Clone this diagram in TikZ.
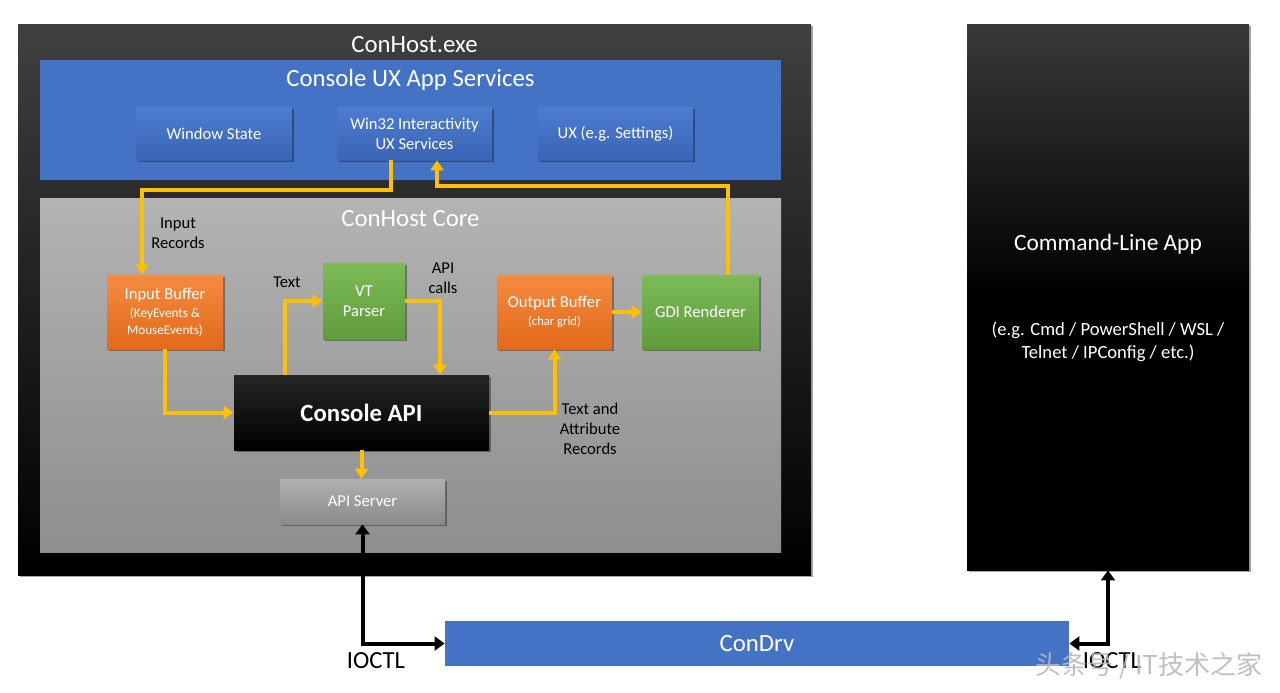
\documentclass[tikz,border=0pt]{standalone}
\usepackage{fontspec}
\setmainfont{Carlito}
\newfontfamily\cjkfont{Noto Sans CJK SC}
\usetikzlibrary{arrows.meta,shadows,calc}
\newcommand\fsz[2]{\fontsize{#1}{#2}\selectfont}
\definecolor{uxblue}{HTML}{4472C4}
\definecolor{bluetop}{HTML}{4D7DD0}
\definecolor{bluebot}{HTML}{3A64B4}
\definecolor{orgtop}{HTML}{F58B40}
\definecolor{orgbot}{HTML}{E2691A}
\definecolor{grntop}{HTML}{7CBB57}
\definecolor{grnbot}{HTML}{5F9B3B}
\definecolor{yel}{HTML}{FFC000}
\definecolor{coretop}{HTML}{B3B3B3}
\definecolor{corebot}{HTML}{8E8E8E}
\definecolor{srvtop}{HTML}{B0B0B0}
\definecolor{srvbot}{HTML}{8A8A8A}
\definecolor{hosttop}{HTML}{404040}
\definecolor{clatop}{HTML}{3A3A3A}
\begin{document}
\begin{tikzpicture}[x=0.5pt,y=-0.5pt,
  box/.style={draw=none,inner sep=0pt,align=center,text=white,font=\fsz{8.3}{10}},
  shadowed/.style={drop shadow={shadow xshift=1.2pt,shadow yshift=-1.2pt,opacity=0.35,fill=black}},
  bluebox/.style={box,shadowed,top color=bluetop,bottom color=bluebot,minimum width=77.5pt,minimum height=26.5pt},
  orgbox/.style={box,shadowed,top color=orgtop,bottom color=orgbot},
  grnbox/.style={box,shadowed,top color=grntop,bottom color=grnbot},
  title/.style={text=white,font=\fsz{12.4}{15}},
  lbl/.style={text=black,font=\fsz{8.3}{10},align=center,inner sep=0pt},
  yarrow/.style={draw=yel,line width=2pt,-{Triangle[length=5pt,width=6.5pt]}},
  barrow/.style={draw=black,line width=2pt,{Triangle[length=5pt,width=7pt]}-{Triangle[length=5pt,width=7pt]}}
]
\useasboundingbox[fill=white] (0,0) rectangle (1280,692);

% outer boxes
\node[box,shadowed,top color=hosttop,bottom color=black,minimum width=396.5pt,minimum height=275.5pt] (conhost) at (414.5,299.5) {};
\node[title] (conhostT) at (414.5,45) {ConHost.exe};
\node[box,fill=uxblue,minimum width=370.5pt,minimum height=60pt] (uxsvc) at (410.5,120) {};
\node[title] (uxsvcT) at (410.5,80) {Console UX App Services};
\node[box,top color=coretop,bottom color=corebot,minimum width=370.5pt,minimum height=177pt] (core) at (410.5,375) {};
\node[title] (coreT) at (410.5,219) {ConHost Core};

% UX service boxes
\node[bluebox] (winstate) at (214,133.5) {Window State};
\node[bluebox] (win32) at (414.5,133.5) {Win32 Interactivity\\UX Services};
\node[bluebox] (uxset) at (615.5,133.5) {UX (e.g. Settings)};

% core boxes
\node[orgbox,minimum width=58pt,minimum height=37pt] (inbuf) at (165,312)
  {Input Buffer\\[-1pt]{\fsz{6.6}{8.5}(KeyEvents \&}\\[-1.5pt]{\fsz{6.6}{8.5}MouseEvents)}};
\node[grnbox,minimum width=41pt,minimum height=38pt] (vt) at (364,301) {VT\\Parser};
\node[orgbox,minimum width=57.5pt,minimum height=37pt] (outbuf) at (554.5,312)
  {Output Buffer\\[-1pt]{\fsz{6.3}{8}(char grid)}};
\node[grnbox,minimum width=58.5pt,minimum height=37pt] (gdi) at (700.5,312) {GDI Renderer};
\node[box,shadowed,top color=hosttop!60!black,bottom color=black,minimum width=127.5pt,minimum height=37.5pt,font=\bfseries\fsz{12.4}{15}] (capi) at (361.5,412.5) {Console API};
\node[box,shadowed,top color=srvtop,bottom color=srvbot,minimum width=82.5pt,minimum height=22.5pt] (apisrv) at (362.5,501.5) {API Server};

% command line app
\node[box,shadowed,top color=clatop,bottom color=black,middle color=black,minimum width=141pt,minimum height=273pt] (cla) at (1108,297) {};
\node[text=white,font=\fsz{11.7}{14}] (claT) at (1108,244) {Command-Line App};
\node[text=white,font=\fsz{9.3}{11.5},align=center] (claS) at (1108,342) {(e.g. Cmd / PowerShell / WSL /\\Telnet / IPConfig / etc.)};

% condrv
\node[box,fill=uxblue,minimum width=312pt,minimum height=22.5pt,font=\fsz{12.4}{15}] (condrv) at (757,643.5) {ConDrv};

% labels
\node[lbl] (lin) at (178,233) {Input\\Records};
\node[lbl] (ltext) at (287,282) {Text};
\node[lbl] (lapi) at (443,278) {API\\calls};
\node[lbl] (ltar) at (590,429) {Text and\\Attribute\\Records};

% yellow connectors
\coordinate (j1) at (391,190);
\coordinate (j2) at (437,186);
\draw[yarrow] ($(win32.south)+(-23.5,0)$) -- (j1) -| ($(inbuf.north)+(-23,0)$);
\draw[yarrow] ($(gdi.north)+(27.5,0)$) |- (j2) -- ($(win32.south)+(22.5,0)$);
\draw[yarrow] (inbuf.south) |- (capi.west);
\draw[yarrow] ($(capi.north)+(-76.5,0)$) |- (vt.west);
\draw[yarrow] (vt.east) -| ($(capi.north)+(78.5,0)$);
\draw[yarrow] (capi.east) -| (outbuf.south);
\draw[yarrow] (outbuf.east) -- (gdi.west);
\draw[yarrow] (capi.south) -- (capi.south |- apisrv.north);

% black connectors
\draw[barrow] (apisrv.south) |- (condrv.west);
\draw[barrow] (condrv.east) -| (cla.south);

\node[text=black,font=\fsz{12.3}{15}] (io1) at (376,661) {IOCTL};
\node[text=black,font=\fsz{12.3}{15}] (io2) at (1112,661) {IOCTL};

% watermark
\node[text=gray!55,opacity=0.9,font=\cjkfont\fsz{13}{15}] (wm) at (1149,666) {头条号 / IT技术之家};
\end{tikzpicture}
\end{document}
